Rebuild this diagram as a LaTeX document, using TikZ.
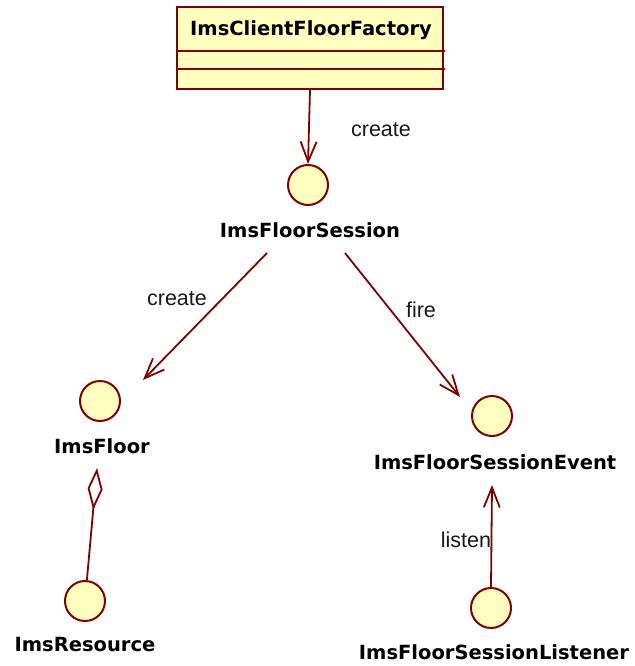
\documentclass[tikz,border=0pt]{standalone}
\usepackage{fontspec}
\setmainfont{Liberation Sans}
\newfontfamily\namefont{DejaVu Sans}
\usetikzlibrary{arrows.meta}
\definecolor{umlline}{RGB}{128,0,0}
\definecolor{umlfill}{RGB}{255,255,192}
\begin{document}
\begin{tikzpicture}[x=1pt,y=-1pt,
  iface/.style={circle,draw=umlline,fill=umlfill,line width=2pt,minimum size=40pt,inner sep=0pt},
  ifname/.style={font=\namefont\bfseries\fontsize{19.5}{23}\selectfont,inner sep=0pt,text=black},
  note/.style={font=\fontsize{21.5}{25}\selectfont,inner sep=0pt,text=black!90},
  dep/.style={draw=umlline,line width=1.8pt,-{Straight Barb[length=20pt,width=16pt]}},
  agg/.style={draw=umlline,line width=1.8pt,-{Diamond[open,length=42pt,width=15pt]}},
  classbox/.style={rectangle,draw=umlline,fill=umlfill,line width=2pt,minimum width=266pt,minimum height=82pt,inner sep=0pt},
  sep/.style={draw=umlline,line width=2pt}]
\useasboundingbox (0,0) rectangle (634,666);

% class with its two empty compartments
\node[classbox] (factory) at (310,48) {};
\node[ifname] (factoryName) at (311,30) {ImsClientFloorFactory};
\draw[sep] (177,51) -- (445,51);
\draw[sep] (177,69) -- (445,69);

% interfaces (lollipop circles) and their names
\node[iface] (session) at (308,185) {};
\node[ifname] (sessionName) at (310,230) {ImsFloorSession};
\node[iface] (floor) at (100,401) {};
\node[ifname] (floorName) at (102,446) {ImsFloor};
\node[iface] (res) at (85,601) {};
\node[ifname] (resName) at (85,645) {ImsResource};
\node[iface] (event) at (492,416) {};
\node[ifname] (eventName) at (495,462) {ImsFloorSessionEvent};
\node[iface] (listener) at (491,608) {};
\node[ifname] (listenerName) at (494,652) {ImsFloorSessionListener};

% connector end points
\coordinate (toFloorStart) at (267,253);
\coordinate (toFloorEnd) at (143,380);
\coordinate (toEventStart) at (345,253);
\coordinate (toEventEnd) at (460,397);
\coordinate (aggPt) at (97,468);
\coordinate (listenEnd) at (492,485);

% relations
\draw[dep] (factory.south -| 310,0) -- (session.north);
\draw[dep] (toFloorStart) -- (toFloorEnd);
\draw[dep] (toEventStart) -- (toEventEnd);
\draw[dep] (listener.north) -- (listenEnd);
\draw[agg] (res) -- (aggPt);

% relation labels
\node[note] (lblCreate1) at (381,130) {create};
\node[note] (lblCreate2) at (177,299) {create};
\node[note] (lblFire) at (421,310) {fire};
\node[note] (lblListen) at (466,540) {listen};
\end{tikzpicture}
\end{document}
